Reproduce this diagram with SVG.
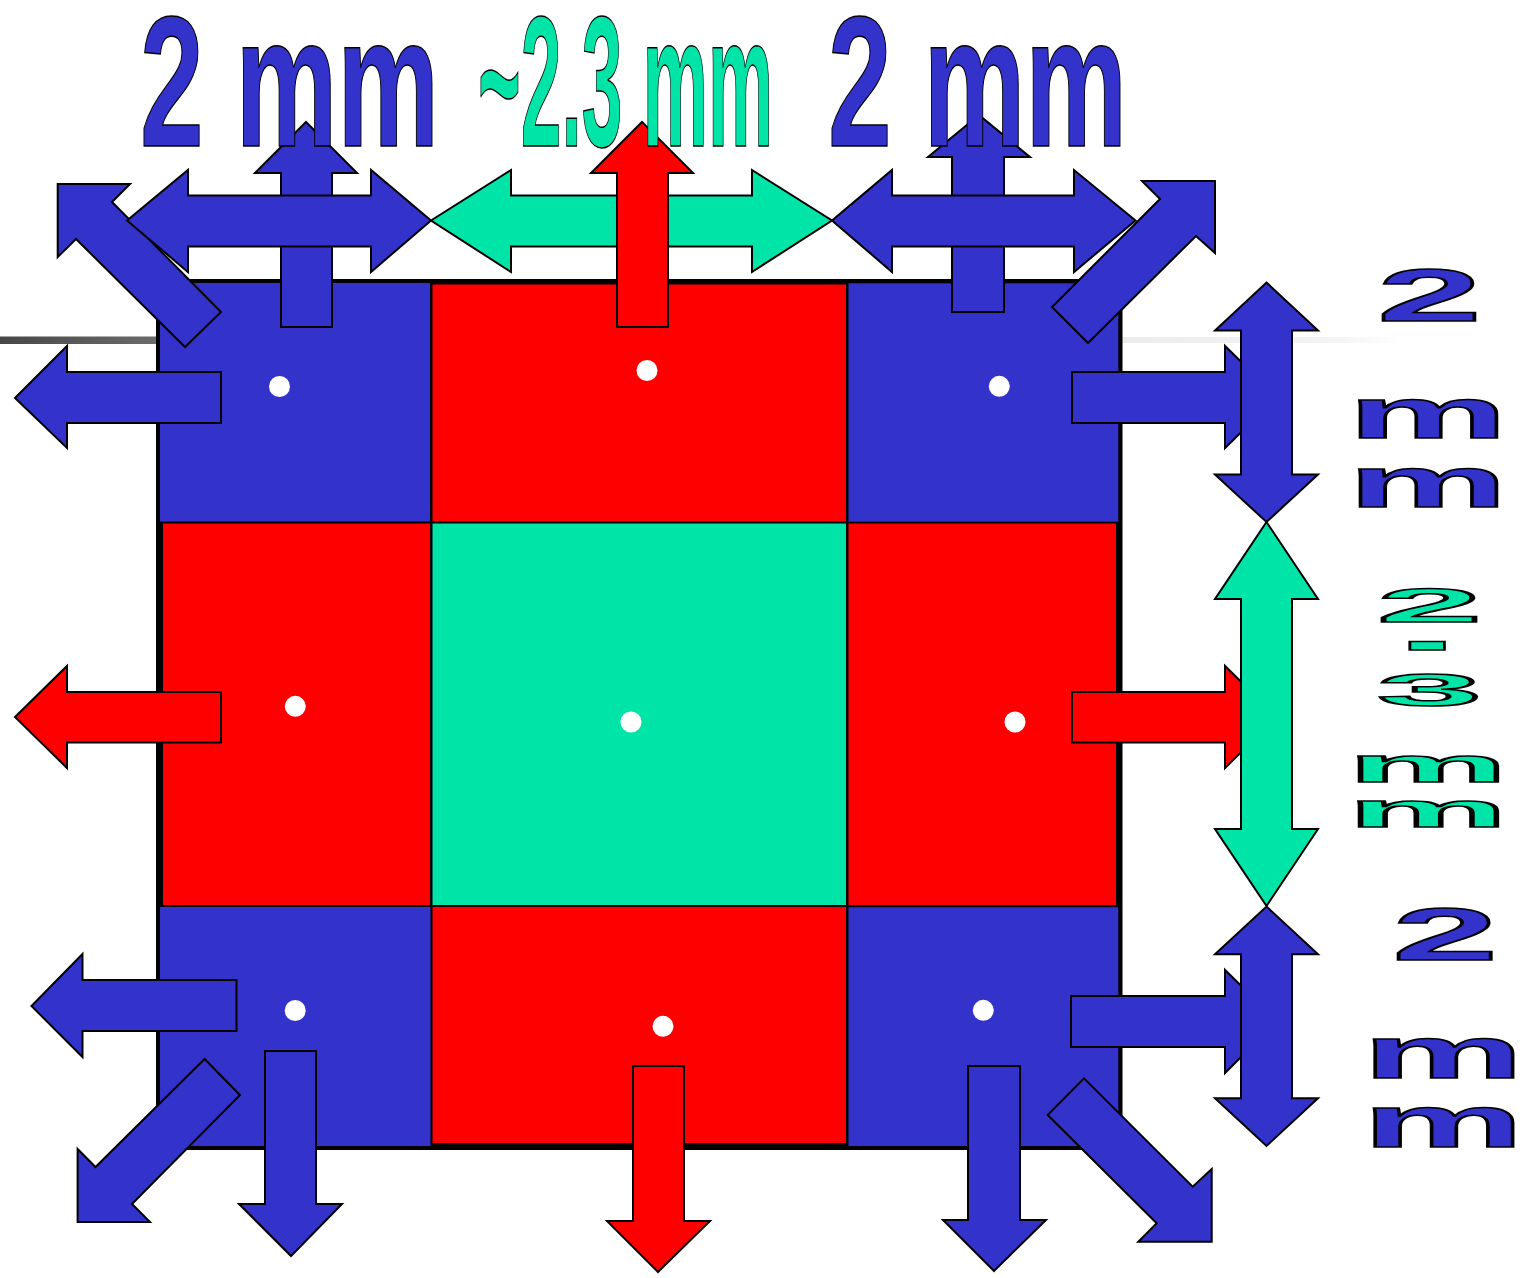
<svg xmlns="http://www.w3.org/2000/svg" width="1533" height="1278" viewBox="0 0 1533 1278">
<defs>
<linearGradient id="gl" x1="0" x2="1"><stop offset="0" stop-color="#474747"/><stop offset="1" stop-color="#6b6b6b"/></linearGradient>
<linearGradient id="gr" x1="0" x2="1"><stop offset="0" stop-color="#ececec"/><stop offset="0.75" stop-color="#f3f3f3"/><stop offset="1" stop-color="#ffffff"/></linearGradient>
<style>
.b{fill:#3333CC}
.r{fill:#FF0000}
.g{fill:#00E4A8}
.ar{stroke:#000;stroke-width:2;stroke-linejoin:miter}
.dot{fill:#fff}
.t{font-family:"Liberation Sans",Arial,sans-serif;font-weight:bold;stroke:#000;stroke-width:1.5}
</style>
</defs>
<rect width="1533" height="1278" fill="#fff"/>
<rect x="0" y="336.5" width="156" height="7.5" fill="url(#gl)"/>
<rect x="1122" y="337" width="280" height="6" fill="url(#gr)"/>
<g id="frame"><rect x="156" y="279" width="966.5" height="871" fill="#000"/></g>
<g id="cell-tl"><rect class="b" x="160" y="283" width="270" height="238.5"/><circle class="dot" cx="279.5" cy="386.5" r="10.5"/></g>
<g id="cell-tm"><rect class="r" x="432.5" y="284.5" width="413.5" height="237"/><circle class="dot" cx="647" cy="370.5" r="10.5"/></g>
<g id="cell-tr"><rect class="b" x="848.5" y="283.3" width="269.8" height="238.4"/><circle class="dot" cx="999.3" cy="386.3" r="10.5"/></g>
<g id="cell-ml"><rect class="r" x="163" y="523.5" width="267" height="381.5"/><circle class="dot" cx="295.3" cy="706.3" r="10.5"/></g>
<g id="cell-mc"><rect class="g" x="432.5" y="523.5" width="413.5" height="381.5"/><circle class="dot" cx="631" cy="722" r="10.5"/></g>
<g id="cell-mr"><rect class="r" x="848.5" y="523.5" width="267.5" height="381.5"/><circle class="dot" cx="1015" cy="722" r="10.5"/></g>
<g id="cell-bl"><rect class="b" x="160" y="907" width="270.5" height="239"/><circle class="dot" cx="295.2" cy="1010.5" r="10.5"/></g>
<g id="cell-bm"><rect class="r" x="432.5" y="907" width="413.5" height="236"/><circle class="dot" cx="663" cy="1026.3" r="10.5"/></g>
<g id="cell-br"><rect class="b" x="848.5" y="907.3" width="269.8" height="238.7"/><circle class="dot" cx="983.3" cy="1010.3" r="10.5"/></g>
<g id="connectors">
<polygon class="b ar" points="15,398 67,346 67,372 221,372 221,423 67,423 67,448"/>
<polygon class="r ar" points="15,717 67,666 67,692 221,692 221,742.5 67,742.5 67,768"/>
<polygon class="b ar" points="31.5,1006 82.5,954 82.5,980 236.5,980 236.5,1031 82.5,1031 82.5,1057"/>
<polygon class="b ar" points="1072,372 1225,372 1225,346 1277,397 1225,448 1225,423 1072,423"/>
<polygon class="r ar" points="1072,692 1225,692 1225,666 1277,717 1225,768 1225,742.5 1072,742.5"/>
<polygon class="b ar" points="1071,996 1225,996 1225,970 1277,1021 1225,1073 1225,1047 1071,1047"/>
<polygon class="b ar" points="57.7,184 130,184 112,202 221,312 185,347 76,239 57.7,257"/>
<polygon class="b ar" points="1215,181 1142,181 1160,199 1052,307 1088,343 1196,236 1215,253"/>
<polygon class="b ar" points="77.6,1222 150,1222 132,1204 240,1095 204.6,1059 95.5,1167 77.6,1149"/>
<polygon class="b ar" points="1211.7,1241.7 1138.3,1241.7 1156.7,1223.3 1047.7,1115 1084,1078.3 1192.7,1186.7 1211.7,1169"/>
<polygon class="b ar" points="265,1051 316,1051 316,1204 342,1204 291,1256 239,1204 265,1204"/>
<polygon class="r ar" points="633,1066 684,1066 684,1221 710,1221 658,1272 607,1221 633,1221"/>
<polygon class="b ar" points="968,1066 1020,1066 1020,1220 1046,1220 994,1271 943,1220 968,1220"/>
<polygon class="b ar" points="306,122 357,173 332,173 332,327 281,327 281,173 255,173"/>
<polygon class="b ar" points="979,115 1030,157 1004,157 1004,312 952,312 952,157 928,157"/>
<polygon class="b ar" points="127,220.5 188,170 188,195.5 371,195.5 371,170 431,220.5 371,272 371,246.5 188,246.5 188,272"/>
<polygon class="g ar" points="431,220.5 511,170 511,195.5 752,195.5 752,170 832,220.5 752,272 752,246.5 511,246.5 511,272"/>
<polygon class="b ar" points="832,220.5 892,170 892,195.5 1074,195.5 1074,170 1135.5,220.5 1074,272 1074,246.5 892,246.5 892,272"/>
<polygon class="r ar" points="642,122 693,173 668,173 668,327 617,327 617,173 591,173"/>
<polygon class="b ar" points="1266.5,282.5 1318,330.5 1292,330.5 1292,474.5 1318,474.5 1266.5,522 1215,474.5 1241,474.5 1241,330.5 1215,330.5"/>
<polygon class="g ar" points="1266.5,522 1318,599 1292,599 1292,829 1318,829 1266.5,906 1215,829 1241,829 1241,599 1215,599"/>
<polygon class="b ar" points="1266.5,906.5 1318,954.3 1292,954.3 1292,1098.3 1318,1098.3 1266.5,1146 1215,1098.3 1241,1098.3 1241,954.3 1215,954.3"/>
</g>
<g id="label-top-left"><text class="t b" x="140" y="146" font-size="185" textLength="299" lengthAdjust="spacingAndGlyphs">2 mm</text></g>
<g id="label-top-mid"><text class="t g" x="478" y="146" font-size="185" textLength="295" lengthAdjust="spacingAndGlyphs">~2.3 mm</text></g>
<g id="label-top-right"><text class="t b" x="828" y="146" font-size="185" textLength="299" lengthAdjust="spacingAndGlyphs">2 mm</text></g>
<g id="label-right-top">
<text class="t b" x="1377" y="321" font-size="75" textLength="105" lengthAdjust="spacingAndGlyphs">2</text>
<text class="t b" x="1348" y="437.5" font-size="72" textLength="159.5" lengthAdjust="spacingAndGlyphs">m</text>
<text class="t b" x="1348" y="506.5" font-size="72" textLength="159.5" lengthAdjust="spacingAndGlyphs">m</text>
</g>
<g id="label-right-mid">
<text class="t g" x="1377" y="622" font-size="48" textLength="105" lengthAdjust="spacingAndGlyphs">2</text>
<text class="t g" x="1404.5" y="664" font-size="71" textLength="45.4" lengthAdjust="spacingAndGlyphs">-</text>
<text class="t g" x="1377" y="705.5" font-size="47" textLength="105" lengthAdjust="spacingAndGlyphs">3</text>
<text class="t g" x="1348" y="782" font-size="48" textLength="159.5" lengthAdjust="spacingAndGlyphs">m</text>
<text class="t g" x="1348" y="827" font-size="48" textLength="159.5" lengthAdjust="spacingAndGlyphs">m</text>
</g>
<g id="label-right-bottom">
<text class="t b" x="1392" y="960" font-size="74" textLength="106.4" lengthAdjust="spacingAndGlyphs">2</text>
<text class="t b" x="1362.6" y="1078" font-size="74" textLength="161.4" lengthAdjust="spacingAndGlyphs">m</text>
<text class="t b" x="1362.6" y="1146.7" font-size="74" textLength="161.4" lengthAdjust="spacingAndGlyphs">m</text>
</g>
</svg>
